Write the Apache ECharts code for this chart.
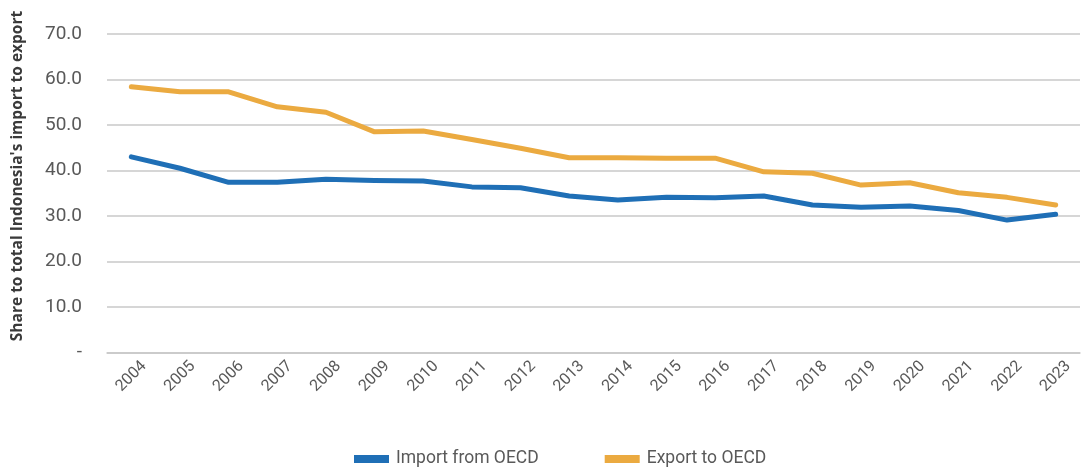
<!DOCTYPE html>
<html>
<head>
<meta charset="utf-8">
<script src="https://cdn.jsdelivr.net/npm/echarts@6/dist/echarts.min.js"></script>
<style>
  html, body { margin: 0; padding: 0; background: #fff; }
  #chart { width: 1086px; height: 470px; }
</style>
</head>
<body>
<div id="chart"></div>
<script>
// Years on the category axis
const years = ['2004','2005','2006','2007','2008','2009','2010','2011','2012','2013',
               '2014','2015','2016','2017','2018','2019','2020','2021','2022','2023'];

// Share (%) of Indonesia's total imports coming from OECD countries
const importFromOECD = [43.0, 40.5, 37.4, 37.4, 38.1, 37.8, 37.7, 36.4, 36.2, 34.4,
                        33.5, 34.1, 34.0, 34.4, 32.4, 31.9, 32.2, 31.2, 29.1, 30.4];

// Share (%) of Indonesia's total exports going to OECD countries
const exportToOECD = [58.4, 57.3, 57.3, 54.0, 52.8, 48.5, 48.7, 46.8, 44.9, 42.8,
                      42.8, 42.7, 42.7, 39.7, 39.4, 36.8, 37.3, 35.1, 34.1, 32.4];

const seriesNames = ['Import from OECD', 'Export to OECD'];
const axisTitle = "Share to total Indonesia's import to export";

const font = 'Roboto, "Noto Sans", sans-serif';
const chart = echarts.init(document.getElementById('chart'), null, { renderer: 'canvas' });

chart.setOption({
  animation: false,
  grid: { left: 107, right: 6, top: 34, bottom: 117.5, containLabel: false },
  // vertical axis title
  graphic: [{
    type: 'text',
    rotation: Math.PI / 2,
    x: 18,
    y: 176,
    style: {
      text: axisTitle,
      font: 'bold 15.5px "Open Sans", sans-serif',
      fill: '#3a3a3a',
      align: 'center',
      verticalAlign: 'middle'
    }
  }],
  legend: {
    top: 445,
    left: 349,
    itemWidth: 35,
    itemHeight: 8,
    itemGap: 66,
    icon: 'rect',
    textStyle: { fontFamily: font, fontSize: 17.5, color: '#595959', padding: [0, 0, 0, 2] },
    data: seriesNames
  },
  xAxis: {
    type: 'category',
    data: years,
    boundaryGap: true,
    axisLine: { show: true, lineStyle: { color: '#c8c8c8', width: 1.5 } },
    axisTick: { show: false },
    axisLabel: {
      rotate: 45,
      fontFamily: font,
      fontSize: 16,
      color: '#595959',
      align: 'center',
      verticalAlign: 'middle',
      margin: 24
    }
  },
  yAxis: {
    type: 'value',
    min: 0,
    max: 70,
    interval: 10,
    axisLine: { show: false },
    axisTick: { show: false },
    axisLabel: {
      fontFamily: font,
      fontSize: 19,
      color: '#595959',
      margin: 25,
      formatter: v => (v === 0 ? '-' : v.toFixed(1))
    },
    splitLine: { lineStyle: { color: '#c8c8c8', width: 1.5 } }
  },
  series: [
    {
      name: seriesNames[0],
      type: 'line',
      data: importFromOECD,
      symbol: 'none',
      lineStyle: { color: '#1f6fb6', width: 5, cap: 'round', join: 'round' },
      itemStyle: { color: '#1f6fb6' }
    },
    {
      name: seriesNames[1],
      type: 'line',
      data: exportToOECD,
      symbol: 'none',
      lineStyle: { color: '#ebaa40', width: 5, cap: 'round', join: 'round' },
      itemStyle: { color: '#ebaa40' }
    }
  ]
});
</script>
</body>
</html>
